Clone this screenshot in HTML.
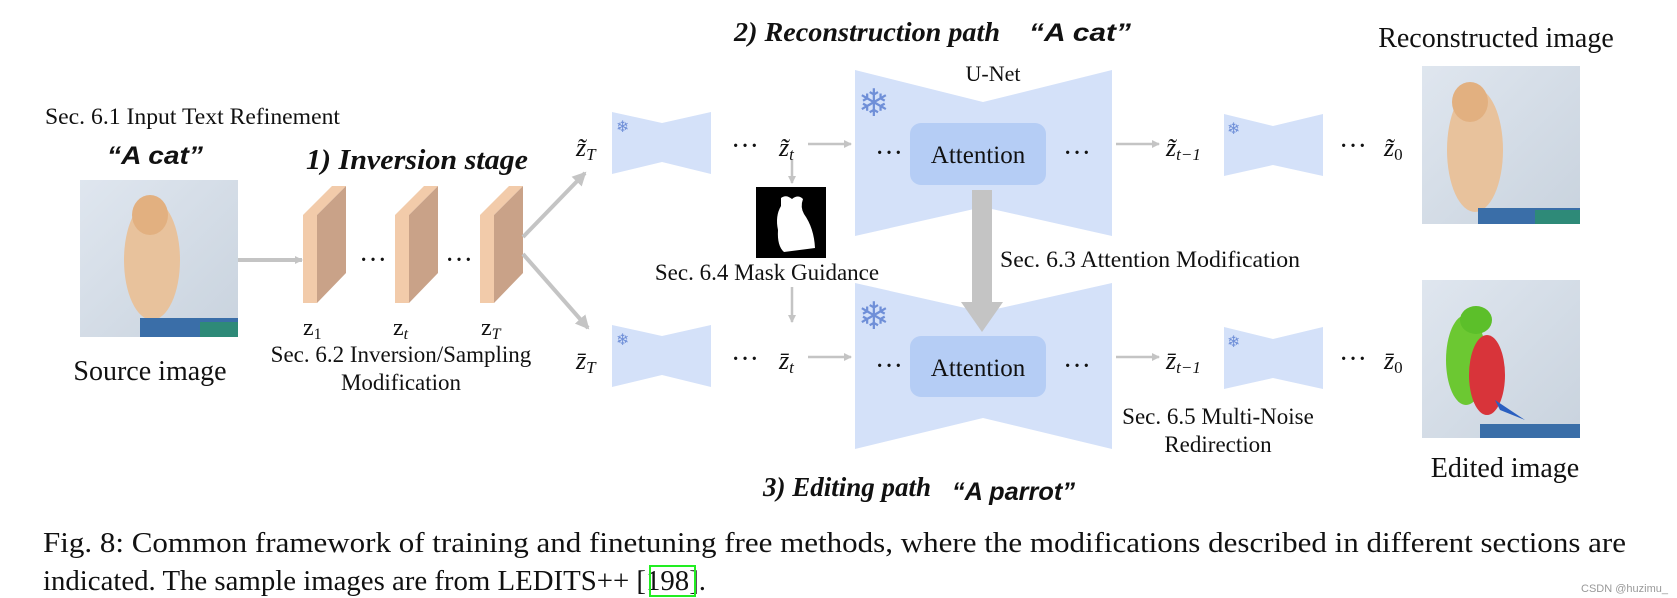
<!DOCTYPE html>
<html><head><meta charset="utf-8">
<style>
html,body{margin:0;padding:0;background:#fff;}
svg{display:block;}
.t{font-family:"Liberation Serif",serif;fill:#111;}
.m{font-family:"Liberation Serif",serif;font-style:italic;fill:#111;}
.h{font-family:"Liberation Sans",sans-serif;font-style:italic;font-weight:bold;fill:#111;}
.b{font-family:"Liberation Serif",serif;font-style:italic;font-weight:bold;fill:#111;}
.sf{font-family:"DejaVu Sans",sans-serif;fill:#6f8fd8;}
</style></head>
<body>
<svg width="1677" height="598" viewBox="0 0 1677 598" xmlns="http://www.w3.org/2000/svg">
<defs>
<marker id="ah" markerWidth="8" markerHeight="8" refX="7" refY="4" orient="auto" markerUnits="userSpaceOnUse"><path d="M0,0 L8,4 L0,8 z" fill="#c4c4c4"/></marker>
<marker id="ah2" markerWidth="14" markerHeight="14" refX="12" refY="7" orient="auto" markerUnits="userSpaceOnUse"><path d="M0,0 L14,7 L0,14 z" fill="#c4c4c4"/></marker>
<linearGradient id="bg" x1="0" y1="0" x2="1" y2="1"><stop offset="0" stop-color="#dfe6ef"/><stop offset="1" stop-color="#c9d3de"/></linearGradient>
</defs>

<text class="b" x="734" y="41" font-size="27" textLength="266" lengthAdjust="spacingAndGlyphs">2) Reconstruction path</text>
<text class="h" x="1029" y="41" font-size="25" textLength="102" lengthAdjust="spacingAndGlyphs">“A cat”</text>
<text class="t" x="1496" y="47" font-size="28" text-anchor="middle">Reconstructed image</text>
<text class="t" x="45" y="124" font-size="23" textLength="295" lengthAdjust="spacingAndGlyphs">Sec. 6.1 Input Text Refinement</text>
<text class="h" x="107" y="164" font-size="25" textLength="96" lengthAdjust="spacingAndGlyphs">“A cat”</text>
<text class="b" x="306" y="169" font-size="29" textLength="222" lengthAdjust="spacingAndGlyphs">1) Inversion stage</text>

<rect x="80" y="180" width="158" height="157" fill="url(#bg)"/>
<ellipse cx="152" cy="260" rx="28" ry="60" fill="#e8c29c"/>
<ellipse cx="150" cy="215" rx="18" ry="20" fill="#e2b080"/>
<rect x="140" y="318" width="98" height="19" fill="#3a6ea8"/>
<rect x="200" y="322" width="38" height="15" fill="#2e8a78"/>
<text class="t" x="150" y="380" font-size="28" text-anchor="middle">Source image</text>

<line x1="238" y1="260" x2="302" y2="260" stroke="#c4c4c4" stroke-width="4" marker-end="url(#ah)"/>

<g>
<polygon points="303,215 317,215 317,303 303,303" fill="#f2cbaa"/>
<polygon points="303,215 332,186 346,186 317,215" fill="#f2cbaa"/>
<polygon points="317,215 346,186 346,273 317,303" fill="#c9a288"/>
</g>
<g transform="translate(92,0)">
<polygon points="303,215 317,215 317,303 303,303" fill="#f2cbaa"/>
<polygon points="303,215 332,186 346,186 317,215" fill="#f2cbaa"/>
<polygon points="317,215 346,186 346,273 317,303" fill="#c9a288"/>
</g>
<g transform="translate(177,0)">
<polygon points="303,215 317,215 317,303 303,303" fill="#f2cbaa"/>
<polygon points="303,215 332,186 346,186 317,215" fill="#f2cbaa"/>
<polygon points="317,215 346,186 346,273 317,303" fill="#c9a288"/>
</g>
<text class="t" x="373" y="269" font-size="28" text-anchor="middle">···</text>
<text class="t" x="459" y="269" font-size="28" text-anchor="middle">···</text>
<text class="t" x="303" y="335" font-size="24">z<tspan font-size="16" dy="4">1</tspan></text>
<text class="t" x="393" y="335" font-size="24">z<tspan font-size="16" dy="4" font-style="italic">t</tspan></text>
<text class="t" x="481" y="335" font-size="24">z<tspan font-size="16" dy="4" font-style="italic">T</tspan></text>
<text class="t" x="401" y="362" font-size="23" text-anchor="middle">Sec. 6.2 Inversion/Sampling</text>
<text class="t" x="401" y="390" font-size="23" text-anchor="middle">Modification</text>

<line x1="523" y1="237" x2="585" y2="173" stroke="#c4c4c4" stroke-width="4" marker-end="url(#ah2)"/>
<line x1="523" y1="254" x2="588" y2="328" stroke="#c4c4c4" stroke-width="4" marker-end="url(#ah2)"/>

<polygon points="612,112 662,123 711,112 711,174 662,162 612,174" fill="#d4e1f9"/>
<polygon points="612,325 662,336 711,325 711,387 662,375 612,387" fill="#d4e1f9"/>
<text class="sf" x="616" y="132" font-size="16">❄</text>
<text class="sf" x="616" y="345" font-size="16">❄</text>
<text class="m" x="576" y="156" font-size="26">z̃<tspan font-size="17" dy="4">T</tspan></text>
<text class="m" x="576" y="369" font-size="26">z̄<tspan font-size="17" dy="4">T</tspan></text>

<text class="t" x="745" y="155" font-size="28" text-anchor="middle">···</text>
<text class="m" x="779" y="156" font-size="26">z̃<tspan font-size="17" dy="4">t</tspan></text>
<line x1="808" y1="144" x2="851" y2="144" stroke="#c4c4c4" stroke-width="2.5" marker-end="url(#ah)"/>
<line x1="792" y1="160" x2="792" y2="183" stroke="#c4c4c4" stroke-width="2.5" marker-end="url(#ah)"/>
<rect x="756" y="187" width="70" height="71" fill="#000"/>
<path d="M781,198 Q786,194 792,199 Q798,194 803,199 Q800,207 804,214 Q814,228 815,248 L784,252 Q777,246 778,230 Q775,216 781,206 z" fill="#fff"/>
<text class="t" x="767" y="280" font-size="23" text-anchor="middle">Sec. 6.4 Mask Guidance</text>
<line x1="792" y1="287" x2="792" y2="322" stroke="#c4c4c4" stroke-width="2.5" marker-end="url(#ah)"/>
<text class="t" x="745" y="368" font-size="28" text-anchor="middle">···</text>
<text class="m" x="779" y="369" font-size="26">z̄<tspan font-size="17" dy="4">t</tspan></text>
<line x1="808" y1="357" x2="851" y2="357" stroke="#c4c4c4" stroke-width="2.5" marker-end="url(#ah)"/>

<polygon points="855,70 983,102 1112,70 1112,236 983,207 855,236" fill="#d4e1f9"/>
<polygon points="855,283 983,312 1112,283 1112,449 983,418 855,449" fill="#d4e1f9"/>
<text class="t" x="993" y="81" font-size="22" text-anchor="middle">U-Net</text>
<text class="sf" x="858" y="116" font-size="38">❄</text>
<text class="sf" x="858" y="329" font-size="38">❄</text>
<rect x="910" y="123" width="136" height="62" rx="11" fill="#b5cdf5"/>
<rect x="910" y="336" width="136" height="61" rx="11" fill="#b5cdf5"/>
<text class="t" x="978" y="163" font-size="25" text-anchor="middle">Attention</text>
<text class="t" x="978" y="376" font-size="25" text-anchor="middle">Attention</text>
<text class="t" x="889" y="162" font-size="28" text-anchor="middle">···</text>
<text class="t" x="1077" y="162" font-size="28" text-anchor="middle">···</text>
<text class="t" x="889" y="375" font-size="28" text-anchor="middle">···</text>
<text class="t" x="1077" y="375" font-size="28" text-anchor="middle">···</text>
<rect x="972" y="190" width="20" height="113" fill="#c4c4c4"/>
<polygon points="961,302 1003,302 982,332" fill="#c4c4c4"/>
<text class="t" x="1000" y="267" font-size="23" textLength="300" lengthAdjust="spacingAndGlyphs">Sec. 6.3 Attention Modification</text>

<line x1="1116" y1="144" x2="1159" y2="144" stroke="#c4c4c4" stroke-width="2.5" marker-end="url(#ah)"/>
<line x1="1116" y1="357" x2="1159" y2="357" stroke="#c4c4c4" stroke-width="2.5" marker-end="url(#ah)"/>
<text class="m" x="1166" y="156" font-size="26">z̃<tspan font-size="17" dy="4">t−1</tspan></text>
<text class="m" x="1166" y="369" font-size="26">z̄<tspan font-size="17" dy="4">t−1</tspan></text>
<polygon points="1224,114 1273,126 1323,114 1323,176 1273,165 1224,176" fill="#d4e1f9"/>
<polygon points="1224,327 1273,339 1323,327 1323,389 1273,378 1224,389" fill="#d4e1f9"/>
<text class="sf" x="1227" y="134" font-size="16">❄</text>
<text class="sf" x="1227" y="347" font-size="16">❄</text>
<text class="t" x="1353" y="155" font-size="28" text-anchor="middle">···</text>
<text class="t" x="1353" y="368" font-size="28" text-anchor="middle">···</text>
<text class="m" x="1384" y="156" font-size="26">z̃<tspan font-size="17" dy="4" font-style="normal">0</tspan></text>
<text class="m" x="1384" y="369" font-size="26">z̄<tspan font-size="17" dy="4" font-style="normal">0</tspan></text>

<rect x="1422" y="66" width="158" height="158" fill="url(#bg)"/>
<ellipse cx="1475" cy="150" rx="28" ry="62" fill="#e8c29c"/>
<ellipse cx="1470" cy="102" rx="18" ry="20" fill="#e2b080"/>
<rect x="1478" y="208" width="102" height="16" fill="#3a6ea8"/>
<rect x="1535" y="210" width="45" height="14" fill="#2e8a78"/>
<rect x="1422" y="280" width="158" height="158" fill="url(#bg)"/>
<ellipse cx="1466" cy="360" rx="20" ry="45" fill="#6cc832"/>
<ellipse cx="1476" cy="320" rx="16" ry="14" fill="#5cbf2a"/>
<ellipse cx="1487" cy="375" rx="18" ry="40" fill="#d8343a"/>
<polygon points="1495,400 1525,420 1500,410" fill="#2a5fc0"/>
<rect x="1480" y="424" width="100" height="14" fill="#3a6ea8"/>
<text class="t" x="1505" y="477" font-size="28" text-anchor="middle">Edited image</text>

<text class="t" x="1218" y="424" font-size="23" text-anchor="middle">Sec. 6.5 Multi-Noise</text>
<text class="t" x="1218" y="452" font-size="23" text-anchor="middle">Redirection</text>
<text class="b" x="763" y="496" font-size="27">3) Editing path</text>
<text class="h" x="952" y="500" font-size="25" textLength="123" lengthAdjust="spacingAndGlyphs">“A parrot”</text>

<text class="t" x="43" y="552" font-size="29" textLength="1583" lengthAdjust="spacingAndGlyphs">Fig. 8: Common framework of training and finetuning free methods, where the modifications described in different sections are</text>
<text class="t" x="43" y="590" font-size="29" textLength="663" lengthAdjust="spacingAndGlyphs">indicated. The sample images are from LEDITS++ [198].</text>
<rect x="650" y="566" width="45" height="30" fill="none" stroke="#22ee22" stroke-width="2"/>
<text x="1668" y="592" font-family="Liberation Sans,sans-serif" font-size="11" fill="#999" text-anchor="end">CSDN @huzimu_</text>
</svg>
</body></html>
